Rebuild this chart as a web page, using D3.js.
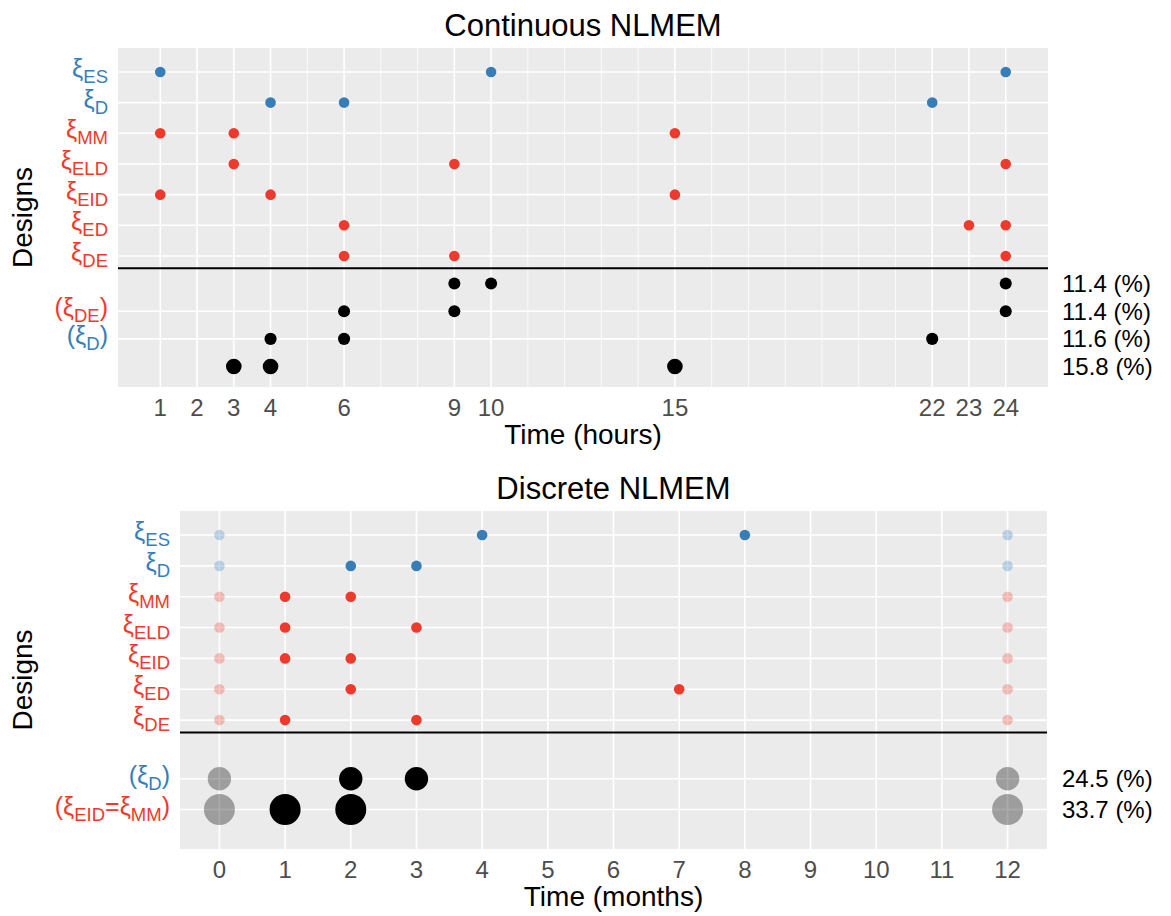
<!DOCTYPE html>
<html>
<head>
<meta charset="utf-8">
<script src="https://cdn.jsdelivr.net/npm/d3@7"></script>
<style>
  body { margin: 0; background: #fff; }
  text { font-family: "Liberation Sans", Arial, sans-serif; }
</style>
</head>
<body>
<svg id="chart" width="1171" height="916"></svg>
<script>
// design names, top to bottom
var designs = ["ES", "D", "MM", "ELD", "EID", "ED", "DE"];
var blueDesigns = ["ES", "D"];

// continuous NLMEM (hours)
var hourTicks = [1, 2, 3, 4, 6, 9, 10, 15, 22, 23, 24];
var hourMinor = [5, 7, 8, 11, 12, 13, 14, 16, 17, 18, 19, 20, 21];
var contTimes = [
  [1, 10, 24],
  [4, 6, 22],
  [1, 3, 15],
  [3, 9, 24],
  [1, 4, 15],
  [6, 23, 24],
  [6, 9, 24]
];
var contOptTimes = [[9, 10, 24], [6, 9, 24], [4, 6, 22], [3, 4, 15]];
var contOptNames = [null, ["DE"], ["D"], null];
var contOptWeights = [11.4, 11.4, 11.6, 15.8];

// discrete NLMEM (months)
var monthTicks = [0, 1, 2, 3, 4, 5, 6, 7, 8, 9, 10, 11, 12];
var fixedMonths = [0, 12];
var discTimes = [
  [4, 8],
  [2, 3],
  [1, 2],
  [1, 3],
  [1, 2],
  [2, 7],
  [1, 3]
];
var discOptTimes = [[2, 3], [1, 2]];
var discOptNames = [["D"], ["EID", "MM"]];
var discOptWeights = [24.5, 33.7];

var blue = "#377EB8", red = "#EE3A2C";
var svg = d3.select("#chart");

function colorOf(names) {
  return blueDesigns.indexOf(names[0]) >= 0 ? blue : red;
}

// xi with subscript, optional parentheses
function addLabel(g, x, y, names, paren, color) {
  var t = g.append("text")
      .attr("x", x).attr("y", y).attr("dy", "0.2em")
      .attr("text-anchor", "end")
      .attr("fill", color)
      .style("font-size", "25px");
  if (paren) t.append("tspan").text("(");
  names.forEach(function(n, i) {
    if (i > 0) t.append("tspan").attr("dy", -6).text("=");
    t.append("tspan").text("\u03BE");
    t.append("tspan").attr("dy", 6).style("font-size", "18.5px").text(n);
  });
  if (paren) t.append("tspan").attr("dy", -6).text(")");
}

function drawPanel(o) {
  var x = d3.scaleLinear().domain(o.xDomain).range([o.left, o.right]);
  var y = d3.scaleLinear().domain(o.yDomain).range([o.bottom, o.top]);
  var g = svg.append("g");

  g.append("rect")
      .attr("x", o.left).attr("y", o.top)
      .attr("width", o.right - o.left).attr("height", o.bottom - o.top)
      .attr("fill", "#EBEBEB");

  // grid
  g.selectAll(".minor").data(o.minor).enter().append("line")
      .attr("x1", function(d) { return x(d); }).attr("x2", function(d) { return x(d); })
      .attr("y1", o.top).attr("y2", o.bottom)
      .attr("stroke", "#fff").attr("stroke-width", 0.8);
  g.selectAll(".major").data(o.ticks).enter().append("line")
      .attr("x1", function(d) { return x(d); }).attr("x2", function(d) { return x(d); })
      .attr("y1", o.top).attr("y2", o.bottom)
      .attr("stroke", "#fff").attr("stroke-width", 1.6);

  var designY = designs.map(function(d, i) { return 11 - i; });
  var optY = o.optTimes.map(function(d, i) { return o.optStart - o.optStep * i; });
  var gridY = designY.concat(optY.filter(function(d, i) { return o.optNames[i]; }));
  g.selectAll(".hgrid").data(gridY).enter().append("line")
      .attr("x1", o.left).attr("x2", o.right)
      .attr("y1", function(d) { return y(d); }).attr("y2", function(d) { return y(d); })
      .attr("stroke", "#fff").attr("stroke-width", 1.6);

  // separator
  g.append("line")
      .attr("x1", o.left).attr("x2", o.right)
      .attr("y1", y(4.6)).attr("y2", y(4.6))
      .attr("stroke", "#000").attr("stroke-width", 2);

  // design points
  designs.forEach(function(name, i) {
    var c = colorOf([name]);
    if (o.fixed) {
      g.selectAll(null).data(o.fixed).enter().append("circle")
          .attr("cx", function(d) { return x(d); }).attr("cy", y(designY[i]))
          .attr("r", 5.3).attr("fill", c).attr("fill-opacity", 0.3);
    }
    g.selectAll(null).data(o.times[i]).enter().append("circle")
        .attr("cx", function(d) { return x(d); }).attr("cy", y(designY[i]))
        .attr("r", 5.3).attr("fill", c);
    addLabel(svg, o.left - 10, y(designY[i]), [name], false, c);
  });

  // optimal designs
  var r = d3.scaleLinear().domain(d3.extent(o.weights)).range(o.rRange);
  o.optTimes.forEach(function(times, i) {
    if (o.fixed) {
      g.selectAll(null).data(o.fixed).enter().append("circle")
          .attr("cx", function(d) { return x(d); }).attr("cy", y(optY[i]))
          .attr("r", r(o.weights[i])).attr("fill", "#000").attr("fill-opacity", 0.33);
    }
    g.selectAll(null).data(times).enter().append("circle")
        .attr("cx", function(d) { return x(d); }).attr("cy", y(optY[i]))
        .attr("r", r(o.weights[i])).attr("fill", "#000");
    if (o.optNames[i]) addLabel(svg, o.left - 10, y(optY[i]), o.optNames[i], true, colorOf(o.optNames[i]));
    svg.append("text")
        .attr("x", 1062).attr("y", y(optY[i])).attr("dy", "0.35em")
        .style("font-size", "24px").attr("fill", "#000")
        .text(d3.format(".1f")(o.weights[i]) + " (%)");
  });

  // x axis labels
  svg.selectAll(null).data(o.ticks).enter().append("text")
      .attr("x", function(d) { return x(d); }).attr("y", o.bottom + 21)
      .attr("dy", "0.35em").attr("text-anchor", "middle")
      .attr("fill", "#4D4D4D").style("font-size", "24px")
      .text(function(d) { return d; });

  svg.append("text")
      .attr("x", (o.left + o.right) / 2).attr("y", o.bottom + 47)
      .attr("dy", "0.35em").attr("text-anchor", "middle")
      .style("font-size", "28px").text(o.xTitle);

  svg.append("text")
      .attr("x", (o.left + o.right) / 2).attr("y", o.top - 23)
      .attr("dy", "0.35em").attr("text-anchor", "middle")
      .style("font-size", "31px").text(o.title);

  svg.append("text")
      .attr("transform", "translate(22," + ((o.top + o.bottom) / 2) + ") rotate(-90)")
      .attr("dy", "0.35em").attr("text-anchor", "middle")
      .style("font-size", "28px").text("Designs");
}

drawPanel({
  title: "Continuous NLMEM", xTitle: "Time (hours)",
  left: 118, right: 1048, top: 48, bottom: 387,
  xDomain: [-0.15, 25.15], yDomain: [0.73, 11.78],
  ticks: hourTicks, minor: hourMinor,
  times: contTimes, optTimes: contOptTimes, optNames: contOptNames,
  weights: contOptWeights, optStart: 4.1, optStep: 0.9, rRange: [6, 7.8]
});

drawPanel({
  title: "Discrete NLMEM", xTitle: "Time (months)",
  left: 180, right: 1047, top: 511, bottom: 849,
  xDomain: [-0.6, 12.6], yDomain: [0.82, 11.78],
  ticks: monthTicks, minor: [], fixed: fixedMonths,
  times: discTimes, optTimes: discOptTimes, optNames: discOptNames,
  weights: discOptWeights, optStart: 3.1, optStep: 1, rRange: [11.7, 15.5]
});
</script>
</body>
</html>
